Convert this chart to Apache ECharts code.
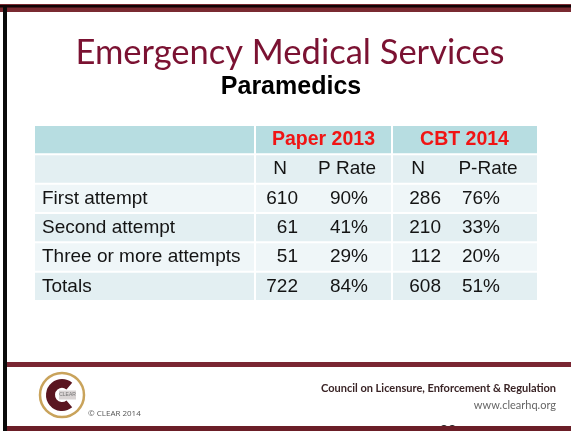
<!DOCTYPE html>
<html>
<head>
<meta charset="utf-8">
<title>Emergency Medical Services - Paramedics</title>
<script src="https://cdn.jsdelivr.net/npm/echarts@6/dist/echarts.min.js"></script>
<style>
  html, body { margin: 0; padding: 0; background: #fff; }
  #chart { width: 571px; height: 431px; }
</style>
</head>
<body>
<div id="chart"></div>
<script>
// table content
const groupTitles = ['Paper 2013', 'CBT 2014'];
const subHeaders = ['N', 'P Rate', 'N', 'P-Rate'];
const attempts = ['First attempt', 'Second attempt', 'Three or more attempts', 'Totals'];
const paperN = [610, 61, 51, 722];
const paperRate = [90, 41, 29, 84];
const cbtN = [286, 210, 112, 608];
const cbtRate = [76, 33, 20, 51];

// one category per table row
const rowKeys = ['group', 'sub'].concat(attempts);

// table layout, in grid pixels
const tableW = 502;
const colEdges = [0, 220, 357, tableW];
const subCenters = [245, 312, 383, 453];
const labelLeft = 7;
const valueRight = [263, 333, 406, 465];

const FONT = '"Liberation Sans", Arial, sans-serif';
const maroon = '#7b1232';

function rowFill(i) {
  if (i === 0) return '#b7dde1';
  return i % 2 ? '#e3eff2' : '#eff6f8';
}

function cellText(x, y, text, align, opts) {
  return {
    type: 'text',
    style: Object.assign({
      x: x, y: y, text: text,
      align: align, verticalAlign: 'middle',
      font: '19px ' + FONT,
      fill: '#141414'
    }, opts || {})
  };
}

function renderRow(params, api) {
  const i = params.dataIndex;
  const yc = api.coord([0, i])[1];
  const bandH = api.size([0, 1])[1];
  const px = v => api.coord([v, i])[0];
  const children = [];
  for (let c = 0; c < 3; c++) {
    const x0 = px(colEdges[c] + (c ? 1 : 0));
    const x1 = px(colEdges[c + 1] - (c < 2 ? 1 : 0));
    children.push({
      type: 'rect',
      shape: { x: x0, y: yc - bandH / 2 + 1, width: x1 - x0, height: bandH - 2 },
      style: { fill: rowFill(i) }
    });
  }
  if (i === 0) {
    groupTitles.forEach((t, g) => {
      const cx = px((colEdges[g + 1] + colEdges[g + 2]) / 2);
      children.push(cellText(cx, yc, t, 'center', { font: 'bold 19.5px ' + FONT, fill: '#f01414' }));
    });
  } else if (i === 1) {
    subHeaders.forEach((t, k) => children.push(cellText(px(subCenters[k]), yc, t, 'center')));
  } else {
    const r = i - 2;
    children.push(cellText(px(labelLeft), yc, attempts[r], 'left'));
    const vals = [String(paperN[r]), paperRate[r] + '%', String(cbtN[r]), cbtRate[r] + '%'];
    vals.forEach((t, k) => children.push(cellText(px(valueRight[k]), yc, t, 'right')));
  }
  return { type: 'group', children: children };
}

const chart = echarts.init(document.getElementById('chart'), null, { renderer: 'canvas' });

const option = {
  backgroundColor: '#ffffff',
  animation: false,
  grid: { left: 35, top: 125, width: tableW, height: 176 },
  xAxis: { type: 'value', min: 0, max: tableW, show: false },
  yAxis: { type: 'category', data: rowKeys, inverse: true, show: false },
  series: [{
    type: 'custom',
    renderItem: renderRow,
    data: rowKeys.map((k, i) => [0, i]),
    encode: { x: 0, y: 1 },
    silent: true
  }],
  graphic: [
    // top band
    { type: 'rect', shape: { x: 0, y: 4, width: 571, height: 8 }, style: { fill: '#7a2a31' } },
    { type: 'rect', shape: { x: 0, y: 5, width: 571, height: 2.5 }, style: { fill: '#120406' } },
    // left border
    { type: 'rect', shape: { x: 3, y: 7, width: 4, height: 424 }, style: { fill: '#0a0a0a' } },
    // footer lines
    { type: 'rect', shape: { x: 7, y: 362, width: 564, height: 5 }, style: { fill: '#7a2632' } },
    { type: 'text', style: { x: 448, y: 431, text: '22', align: 'center', verticalAlign: 'middle', font: '15px ' + FONT, fill: '#222' } },
    { type: 'rect', shape: { x: 7, y: 426, width: 564, height: 5 }, style: { fill: '#6b1e27' } },
    // titles
    { type: 'text', style: { x: 290, y: 53, text: 'Emergency Medical Services', align: 'center', verticalAlign: 'middle', font: '34.5px Lato, "Liberation Sans", sans-serif', fill: maroon } },
    { type: 'text', style: { x: 291, y: 87, text: 'Paramedics', align: 'center', verticalAlign: 'middle', font: 'bold 25px ' + FONT, fill: '#000' } },
    // logo
    { type: 'circle', shape: { cx: 62, cy: 395, r: 22 }, style: { fill: '#fff', stroke: '#c9a35b', lineWidth: 2.5 } },
    { type: 'arc', shape: { cx: 62, cy: 395, r: 11.5, startAngle: Math.PI * 0.28, endAngle: Math.PI * 1.72, clockwise: true }, style: { stroke: '#5a1520', lineWidth: 9, fill: null } },
    { type: 'rect', shape: { x: 59, y: 390.5, width: 17, height: 9 }, style: { fill: '#d9d4d4' } },
    { type: 'text', style: { x: 67.5, y: 395, text: 'CLEAR', align: 'center', verticalAlign: 'middle', font: '5px ' + FONT, fill: '#777' } },
    // footer texts
    { type: 'text', style: { x: 88, y: 414, text: '\u00a9 CLEAR 2014', align: 'left', verticalAlign: 'middle', font: '8px "Open Sans", sans-serif', fill: '#555' } },
    { type: 'text', style: { x: 556, y: 388, text: 'Council on Licensure, Enforcement & Regulation', align: 'right', verticalAlign: 'middle', font: 'bold 11px Lato, sans-serif', fill: '#3a2426' } },
    { type: 'text', style: { x: 556, y: 405, text: 'www.clearhq.org', align: 'right', verticalAlign: 'middle', font: '11px Lato, sans-serif', fill: '#666' } }
  ]
};

chart.setOption(option);
</script>
</body>
</html>
